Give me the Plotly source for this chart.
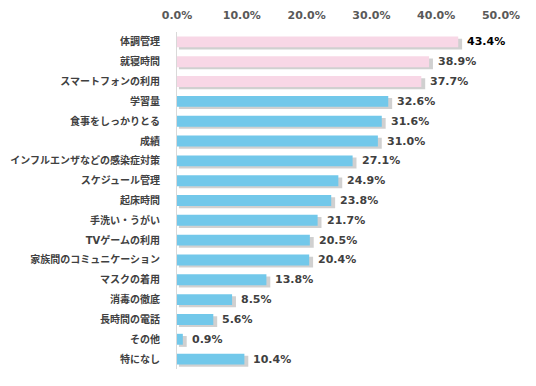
import plotly.graph_objects as go

categories = ["体調管理", "就寝時間", "スマートフォンの利用", "学習量", "食事をしっかりとる", "成績",
              "インフルエンザなどの感染症対策", "スケジュール管理", "起床時間", "手洗い・うがい",
              "TVゲームの利用", "家族間のコミュニケーション", "マスクの着用", "消毒の徹底",
              "長時間の電話", "その他", "特になし"]
values = [43.4, 38.9, 37.7, 32.6, 31.6, 31.0, 27.1, 24.9, 23.8, 21.7, 20.5, 20.4, 13.8, 8.5, 5.6, 0.9, 10.4]
pink_count = 3
tick_vals = [0, 10, 20, 30, 40, 50]
tick_text = ["0.0%", "10.0%", "20.0%", "30.0%", "40.0%", "50.0%"]

PINK = "#F8D7E6"
BLUE = "#72C8EA"
colors = [PINK if i < pink_count else BLUE for i in range(len(values))]
FONT = "Verdana, DejaVu Sans, Noto Sans CJK JP"
W = 0.55

fig = go.Figure()
# shadow
fig.add_trace(go.Bar(
    y=categories, x=[v + 0.3 for v in values], base=[0.3] * len(values),
    orientation="h", width=W, offset=-W / 2 + 0.11,
    marker=dict(color="rgba(120,120,120,0.35)", line=dict(width=0)),
    hoverinfo="skip", showlegend=False,
))
fig.add_trace(go.Bar(
    y=categories, x=values, orientation="h", width=W, offset=-W / 2,
    marker=dict(color=colors, line=dict(width=0)), showlegend=False,
))

for i, (c, v) in enumerate(zip(categories, values)):
    fig.add_annotation(
        x=v, y=c, text=f"{v:.1f}%", showarrow=False, xanchor="left", yanchor="middle",
        xshift=7, font=dict(family=FONT, size=11, color="#000000" if i == 0 else "#404040", weight="bold"),
    )

fig.update_layout(
    width=536, height=386, barmode="overlay",
    margin=dict(l=169, r=43, t=24, b=25),
    plot_bgcolor="white", paper_bgcolor="white",
    xaxis=dict(range=[0, 50], side="top", tickvals=tick_vals, ticktext=tick_text,
               showgrid=False, zeroline=False, showline=False, ticks="", automargin=False,
               tickfont=dict(family=FONT, size=11, color="#595959", weight="bold"), ticklabelstandoff=10),
    yaxis=dict(autorange="reversed", showgrid=False, showline=True, linecolor="#D9D9D9", linewidth=1,
               ticks="", ticklabelstandoff=14, automargin=False,
               tickfont=dict(family=FONT, size=10, color="#404040", weight="bold")),
)

fig.write_html("out.html")
